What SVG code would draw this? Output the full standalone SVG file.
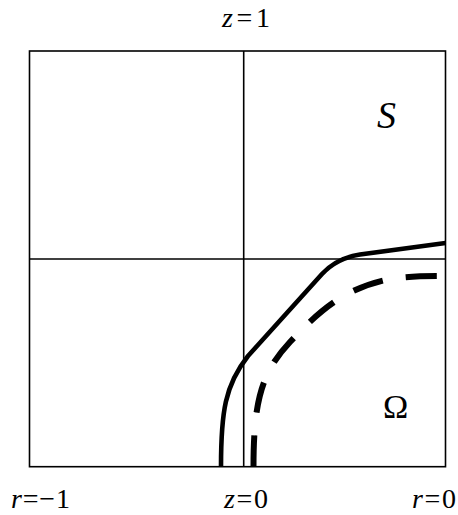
<svg xmlns="http://www.w3.org/2000/svg" width="458" height="515" viewBox="0 0 458 515">
<style>
.grid{fill:none;stroke:#000;stroke-width:1.6}
.lbl{font-family:"Liberation Serif","Times New Roman",serif;font-size:28px;fill:#000}
.it{font-style:italic}
.curve{fill:none;stroke:#000;stroke-linecap:butt;stroke-linejoin:round}
</style>
<rect width="458" height="515" fill="#fff"/>
<g id="frame">
<rect class="grid" x="29.5" y="51" width="416" height="415.7"/>
<line class="grid" x1="243.7" y1="51" x2="243.7" y2="466.7"/>
<line class="grid" x1="29.5" y1="259" x2="445.5" y2="259"/>
</g>
<g id="curves">
<path class="curve" stroke-width="4.6" d="M221,466.7 C221,412 225,385 248,356 L322,274 Q337,258 360,254.5 L445.5,243"/>
<path class="curve" stroke-width="6" stroke-dasharray="31 23" d="M253.5,466.7 C253.5,400 262,372 290,342 C320,310 345,288 390,279 C410,276 430,276 445.5,276"/>
</g>
<g id="labels">
<text class="lbl" x="222" y="27" textLength="48" lengthAdjust="spacing"><tspan class="it">z</tspan>=1</text>
<text class="lbl" x="11" y="508" textLength="59" lengthAdjust="spacing"><tspan class="it">r</tspan>=−1</text>
<text class="lbl" x="224" y="508" textLength="44" lengthAdjust="spacing"><tspan class="it">z</tspan>=0</text>
<text class="lbl" x="412" y="508" textLength="44" lengthAdjust="spacing"><tspan class="it">r</tspan>=0</text>
<text class="lbl it" x="377" y="128" style="font-size:38px">S</text>
<text class="lbl" x="383" y="418" style="font-size:34px">Ω</text>
</g>
</svg>
